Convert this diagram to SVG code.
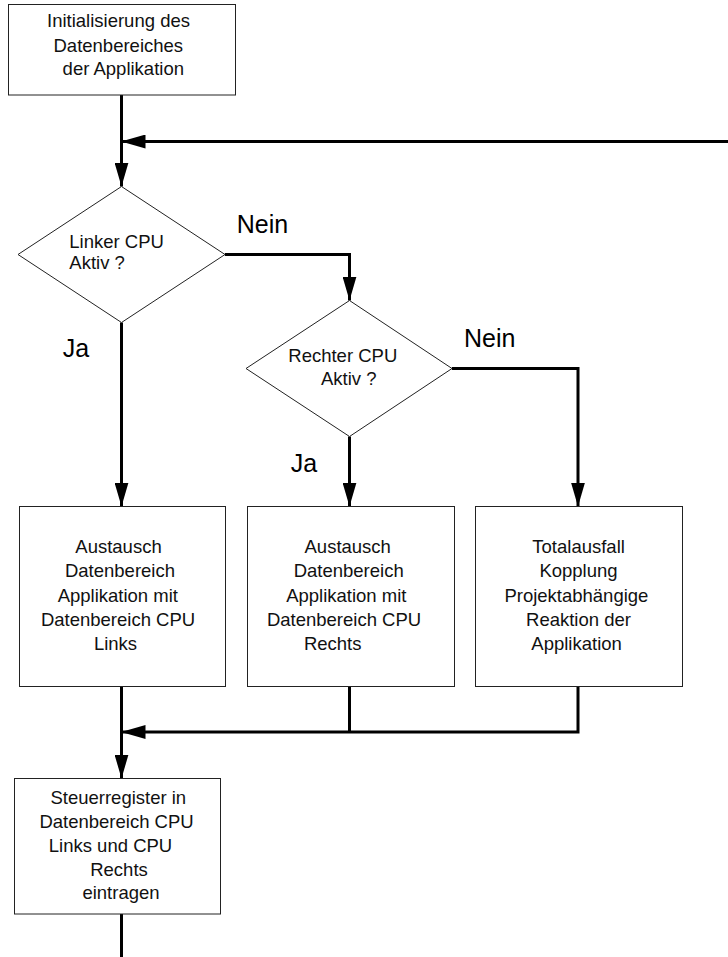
<svg xmlns="http://www.w3.org/2000/svg" width="728" height="957" viewBox="0 0 728 957">
  <style>
    .box { fill: #ffffff; stroke: #222222; stroke-width: 1; }
    .txt { font-family: "Liberation Sans", Arial, sans-serif; font-size: 18.5px; fill: #111111; text-anchor: middle; }
    .txs { font-family: "Liberation Sans", Arial, sans-serif; font-size: 18.5px; fill: #111111; }
    .lbl { font-family: "Liberation Sans", Arial, sans-serif; font-size: 25px; fill: #000000; }
    .wire { fill: none; stroke: #000000; stroke-width: 3; stroke-linejoin: miter; stroke-linecap: butt; }
    .arr { marker-end: url(#head); }
  </style>
  <defs>
    <marker id="head" markerUnits="userSpaceOnUse" markerWidth="24" markerHeight="14" viewBox="0 0 24 14" refX="24" refY="7" orient="auto">
      <path d="M0,0 L24,7 L0,14 z" fill="#000000"/>
    </marker>
  </defs>

  <!-- connectors -->
  <g id="connectors">
    <path class="wire arr" d="M121.5,95 V186.5"/>
    <path class="wire arr" d="M728,141.5 H121.5"/>
    <path class="wire arr" d="M225,254.5 H349.5 V300.5"/>
    <path class="wire arr" d="M121.5,322.5 V506.5"/>
    <path class="wire arr" d="M349.5,436.5 V506.5"/>
    <path class="wire arr" d="M452,368.5 H578 V506.5"/>
    <path class="wire arr" d="M121.5,686.5 V778.5"/>
    <path class="wire" d="M349.5,686.5 V732"/>
    <path class="wire arr" d="M578,686.5 V732 H121.5"/>
    <path class="wire" d="M121.5,914 V957"/>
  </g>

  <!-- branch labels -->
  <g id="labels">
    <text class="lbl" x="236.7" y="232.7">Nein</text>
    <text class="lbl" x="62.7" y="356.7">Ja</text>
    <text class="lbl" x="464" y="346.7">Nein</text>
    <text class="lbl" x="290.7" y="471.7">Ja</text>
  </g>

  <g id="init">
    <rect class="box" x="8.5" y="4.5" width="227" height="90.5"/>
    <text class="txt" x="118.5" y="27">Initialisierung des</text>
    <text class="txt" x="118.3" y="51.5">Datenbereiches</text>
    <text class="txt" x="123.3" y="75">der Applikation</text>
  </g>

  <g id="decision-left">
    <polygon class="box" points="121.5,186.5 225,254.5 121.5,322.5 18,254.5"/>
    <text class="txs" x="69.3" y="248">Linker CPU</text>
    <text class="txs" x="69.3" y="269">Aktiv ?</text>
  </g>

  <g id="decision-right">
    <polygon class="box" points="349.5,300.5 452,368.5 349.5,436.5 246,368.5"/>
    <text class="txt" x="342.8" y="362.3">Rechter CPU</text>
    <text class="txt" x="348.8" y="385">Aktiv ?</text>
  </g>

  <g id="exchange-left">
    <rect class="box" x="19.5" y="506.5" width="206" height="180"/>
    <text class="txt" x="118.5" y="553.3">Austausch</text>
    <text class="txt" x="120" y="577.3">Datenbereich</text>
    <text class="txt" x="117.8" y="601.7">Applikation mit</text>
    <text class="txt" x="118" y="626">Datenbereich CPU</text>
    <text class="txt" x="115.5" y="650">Links</text>
  </g>

  <g id="exchange-right">
    <rect class="box" x="247.5" y="506.5" width="207" height="180"/>
    <text class="txt" x="347.7" y="553.3">Austausch</text>
    <text class="txt" x="348.7" y="577.3">Datenbereich</text>
    <text class="txt" x="346.3" y="601.7">Applikation mit</text>
    <text class="txt" x="344" y="626">Datenbereich CPU</text>
    <text class="txt" x="332.7" y="650">Rechts</text>
  </g>

  <g id="total-failure">
    <rect class="box" x="475.5" y="506.5" width="207" height="180"/>
    <text class="txt" x="578.6" y="553.3">Totalausfall</text>
    <text class="txt" x="578.5" y="577.3">Kopplung</text>
    <text class="txt" x="576.4" y="601.7">Projektabhängige</text>
    <text class="txt" x="578.5" y="626">Reaktion der</text>
    <text class="txt" x="576.6" y="650">Applikation</text>
  </g>

  <g id="control-register">
    <rect class="box" x="14.5" y="778.5" width="206" height="135.5"/>
    <text class="txt" x="118.3" y="804">Steuerregister in</text>
    <text class="txt" x="116.5" y="827.5">Datenbereich CPU</text>
    <text class="txt" x="110.5" y="851.5">Links und CPU</text>
    <text class="txt" x="119" y="875.5">Rechts</text>
    <text class="txt" x="121" y="899">eintragen</text>
  </g>
</svg>
